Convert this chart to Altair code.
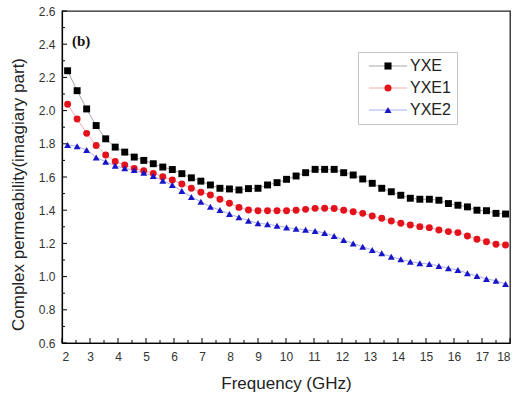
import altair as alt
import pandas as pd

freq = [2.2, 2.54, 2.88, 3.22, 3.56, 3.9, 4.24, 4.58, 4.92, 5.26, 5.6, 5.94, 6.28, 6.62, 6.96,
        7.3, 7.64, 7.98, 8.32, 8.66, 9.0, 9.34, 9.68, 10.02, 10.36, 10.7, 11.04, 11.38, 11.72,
        12.06, 12.4, 12.74, 13.08, 13.42, 13.76, 14.1, 14.44, 14.78, 15.12, 15.46, 15.8, 16.14,
        16.48, 16.82, 17.16, 17.5, 17.84]
yxe = [2.24, 2.12, 2.01, 1.91, 1.83, 1.78, 1.75, 1.72, 1.70, 1.68, 1.66, 1.645, 1.62, 1.595,
       1.575, 1.552, 1.532, 1.528, 1.522, 1.53, 1.532, 1.552, 1.566, 1.586, 1.606, 1.626, 1.646,
       1.646, 1.646, 1.626, 1.612, 1.588, 1.562, 1.532, 1.511, 1.49, 1.472, 1.466, 1.466, 1.46,
       1.44, 1.43, 1.42, 1.40, 1.397, 1.381, 1.377]
yxe1 = [2.038, 1.949, 1.863, 1.79, 1.733, 1.694, 1.672, 1.652, 1.638, 1.622, 1.602, 1.582,
        1.558, 1.532, 1.508, 1.492, 1.466, 1.442, 1.417, 1.401, 1.397, 1.397, 1.397, 1.397, 1.40,
        1.405, 1.411, 1.412, 1.41, 1.40, 1.391, 1.381, 1.365, 1.351, 1.335, 1.321, 1.311, 1.301,
        1.295, 1.281, 1.271, 1.265, 1.245, 1.225, 1.21, 1.195, 1.19]
yxe2 = [1.793, 1.785, 1.763, 1.718, 1.692, 1.668, 1.652, 1.642, 1.626, 1.606, 1.578, 1.552,
        1.516, 1.48, 1.451, 1.421, 1.401, 1.377, 1.357, 1.337, 1.321, 1.316, 1.306, 1.296, 1.288,
        1.282, 1.274, 1.263, 1.245, 1.22, 1.20, 1.18, 1.16, 1.14, 1.12, 1.104, 1.09, 1.08, 1.076,
        1.064, 1.05, 1.04, 1.02, 1.004, 0.986, 0.975, 0.955]

series_names = ["YXE", "YXE1", "YXE2"]
line_keys = ["l0", "l1", "l2"]
colors = ["#000000", "#e3121b", "#1616c8"]
shapes = ["square", "circle", "triangle-up"]

x_ticks = [2, 3, 4, 5, 6, 7, 8, 9, 10, 11, 12, 13, 14, 15, 16, 17, 18]
x_minor = [2.5, 3.5, 4.5, 5.5, 6.5, 7.5, 8.5, 9.5, 10.5, 11.5, 12.5, 13.5, 14.5, 15.5, 16.5, 17.5]
y_ticks = [0.6, 0.8, 1.0, 1.2, 1.4, 1.6, 1.8, 2.0, 2.2, 2.4, 2.6]
y_minor = [0.7, 0.9, 1.1, 1.3, 1.5, 1.7, 1.9, 2.1, 2.3, 2.5]

rows = []
for name, key, vals in zip(series_names, line_keys, [yxe, yxe1, yxe2]):
    for f, v in zip(freq, vals):
        rows.append({"freq": f, "value": v, "series": name, "lkey": key})
df = pd.DataFrame(rows)

W, H = 448, 332
FONT = "Liberation Sans"
xs = alt.Scale(domain=[2, 18], nice=False, zero=False)
ys = alt.Scale(domain=[0.6, 2.6], nice=False, zero=False)
cscale = alt.Scale(domain=series_names, range=colors)
sscale = alt.Scale(domain=series_names, range=shapes)
lscale = alt.Scale(domain=line_keys, range=colors)

# two overlaid legends with identical layout: one draws the faint line strokes,
# the other the markers, labels and frame
LEG_X, LEG_Y = 296, 41
leg_line = alt.Legend(title=None, orient="none", legendX=LEG_X, legendY=LEG_Y,
                      padding=6, symbolType="M-5.4,0H5.4", symbolSize=50,
                      symbolStrokeWidth=1, symbolOpacity=0.35, symbolOffset=16,
                      labelFontSize=16, labelFont=FONT, labelExpr="' '",
                      rowPadding=6, labelOffset=14)
leg_pt = alt.Legend(title=None, orient="none", legendX=LEG_X, legendY=LEG_Y,
                    strokeColor="#c4c4c4", padding=6, symbolSize=50, symbolOffset=16,
                    labelFontSize=16, labelFont=FONT, labelColor="#222",
                    rowPadding=6, labelOffset=14)

XT = "Frequency (GHz)"
YT = "Complex permeability(imagiary part)"

xaxis = alt.Axis(values=x_ticks, format="d", ticks=False, grid=False, domainColor="black",
                 domainWidth=1.2, labelFont=FONT, labelFontSize=12, labelColor="#333",
                 labelPadding=8, title=XT, titleFont=FONT, titleFontSize=17,
                 titleFontWeight="normal", titleColor="#222", titlePadding=13)
yaxis = alt.Axis(values=y_ticks, format=".1f", ticks=False, grid=False, domainColor="black",
                 domainWidth=1.2, labelFont=FONT, labelFontSize=12, labelColor="#333",
                 labelPadding=7, title=YT, titleFont=FONT, titleFontSize=17,
                 titleFontWeight="normal", titleColor="#222", titleX=-44, titleY=183,
                 titleAngle=270, titleAlign="center", titleBaseline="middle")

base = alt.Chart(df)
points = base.mark_point(filled=True, size=48, opacity=1).encode(
    x=alt.X("freq:Q", scale=xs, axis=xaxis, title=XT),
    y=alt.Y("value:Q", scale=ys, axis=yaxis, title=YT),
    color=alt.Color("series:N", scale=cscale, legend=leg_pt),
    shape=alt.Shape("series:N", scale=sscale, legend=leg_pt),
)
lines = base.mark_line(strokeWidth=0.8, opacity=0.45).encode(
    x=alt.X("freq:Q", scale=xs, axis=xaxis, title=XT),
    y=alt.Y("value:Q", scale=ys, axis=yaxis, title=YT),
    stroke=alt.Stroke("lkey:N", scale=lscale, legend=leg_line),
)

xt = pd.DataFrame({"t": x_ticks})
xm = pd.DataFrame({"t": x_minor})
yt = pd.DataFrame({"t": y_ticks})
ym = pd.DataFrame({"t": y_minor})

xt_major = alt.Chart(xt).mark_rule(color="black", strokeWidth=1).encode(
    x=alt.X("t:Q", scale=xs, axis=xaxis, title=XT), y=alt.value(H), y2=alt.value(H - 5))
xt_minor = alt.Chart(xm).mark_rule(color="black", strokeWidth=1).encode(
    x=alt.X("t:Q", scale=xs, axis=xaxis, title=XT), y=alt.value(H), y2=alt.value(H - 3))
yt_major = alt.Chart(yt).mark_rule(color="black", strokeWidth=1).encode(
    y=alt.Y("t:Q", scale=ys, axis=yaxis, title=YT), x=alt.value(0), x2=alt.value(5))
yt_minor = alt.Chart(ym).mark_rule(color="black", strokeWidth=1).encode(
    y=alt.Y("t:Q", scale=ys, axis=yaxis, title=YT), x=alt.value(0), x2=alt.value(3))

label_b = alt.Chart(pd.DataFrame({"t": ["(b)"]})).mark_text(
    font="Liberation Serif", fontSize=15, fontWeight="bold", align="left", baseline="middle",
    color="#111").encode(text="t:N", x=alt.value(10), y=alt.value(30))

chart = alt.layer(lines, points, xt_major, xt_minor, yt_major, yt_minor, label_b).properties(
    width=W, height=H,
    autosize=alt.AutoSizeParams(type="none"),
    padding={"left": 62, "top": 11, "right": 10, "bottom": 58},
    background="white",
).configure_view(stroke="#222", strokeWidth=1.3)

chart.save("out.html", embed_options={"renderer": "svg", "actions": False})
